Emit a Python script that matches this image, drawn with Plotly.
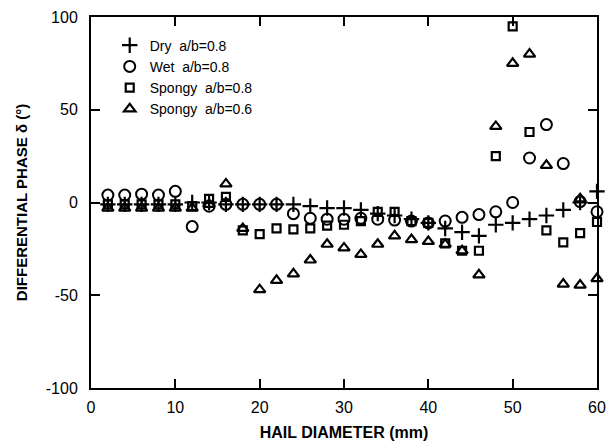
import plotly.graph_objects as go

diameter = [2, 4, 6, 8, 10, 12, 14, 16, 18, 20, 22, 24, 26, 28, 30,
            32, 34, 36, 38, 40, 42, 44, 46, 48, 50, 52, 54, 56, 58, 60]
dry_08 = [-1, -1, -1, -1, -1, 0, 0, -1, -1, -1, -1, -1, -2, -3, -3,
          -4, -6, -7, -9, -11, -14, -16, -18, -12, -11, -9, -7, -4, 0, 6]
wet_08 = [4, 4, 4.5, 4, 6, -13, -2, -1, -1, -1, -1, -6, -8.5, -9, -9,
          -8.5, -9, -9.5, -10, -11, -10, -8, -6.5, -5, 0, 24, 42, 21, 0.5, -5]
spongy_08 = [-1, -1, -1, -1, -1, -2, 2, 3, -15, -17, -14, -14.5, -14, -12.5, -12,
             -10, -5, -5, -10, -11, -22, -26, -26, 25, 95, 38, -15, -21.5, -16.5, -10.5]
spongy_06_x = diameter + [58]
spongy_06 = [-3, -3, -3, -3, -3, -3, -1, 10, -14, -47, -42, -38.5, -31, -22.5, -24.5,
             -28, -22.5, -18, -20, -21, -22.5, -26, -39, 41, 75, 80, 20, -44, -44.5, -41, 2]

x_ticks = [0, 10, 20, 30, 40, 50, 60]
x_ticklabels = ["0", "10", "20", "30", "40", "50", "60"]
y_ticks = [-100, -50, 0, 50, 100]
y_ticklabels = ["-100", "-50", "0", "50", "100"]

FONT = "Liberation Sans, Arial, sans-serif"

fig = go.Figure()
fig.add_trace(go.Scatter(x=diameter, y=dry_08, mode="markers", name="Dry  a/b=0.8",
                         marker=dict(symbol="cross-thin-open", size=11, color="black",
                                     line=dict(width=2.2, color="black")),
                         cliponaxis=False))
fig.add_trace(go.Scatter(x=diameter, y=wet_08, mode="markers", name="Wet  a/b=0.8",
                         marker=dict(symbol="circle-open", size=11, color="black",
                                     line=dict(width=2, color="black")),
                         cliponaxis=False))
fig.add_trace(go.Scatter(x=diameter, y=spongy_08, mode="markers", name="Spongy  a/b=0.8",
                         marker=dict(symbol="square-open", size=8, color="black",
                                     line=dict(width=2.2, color="black")),
                         cliponaxis=False))
fig.add_trace(go.Scatter(x=spongy_06_x, y=spongy_06, mode="markers", name="Spongy  a/b=0.6",
                         marker=dict(symbol="triangle-up-open", size=10, color="black",
                                     line=dict(width=2.2, color="black")),
                         cliponaxis=False))

axis_common = dict(showline=True, linecolor="black", linewidth=2, mirror="ticks",
                   ticks="inside", ticklen=9, tickwidth=2, tickcolor="black",
                   showgrid=False, zeroline=False, automargin=False,
                   tickfont=dict(family=FONT, size=16, color="black"))

fig.update_xaxes(range=[0, 60], tickvals=x_ticks, ticktext=x_ticklabels,
                 ticklabelstandoff=4,
                 title=dict(text="<b>HAIL DIAMETER (mm)</b>", font=dict(family=FONT, size=16, color="black")),
                 **axis_common)
fig.update_yaxes(range=[-100, 100], tickvals=y_ticks, ticktext=y_ticklabels,
                 ticklabelstandoff=8,
                 title=dict(text="<b>DIFFERENTIAL PHASE δ (°)</b>", font=dict(family=FONT, size=15, color="black")),
                 **axis_common)

fig.update_layout(
    width=607, height=441,
    margin=dict(l=91, r=10, t=17, b=53),
    paper_bgcolor="white", plot_bgcolor="white",
    showlegend=True,
    legend=dict(x=0.037, y=0.966, xanchor="left", yanchor="top",
                bgcolor="rgba(0,0,0,0)", font=dict(family=FONT, size=14, color="black"),
                itemwidth=30, tracegroupgap=0),
)

fig.write_html("out.html")
